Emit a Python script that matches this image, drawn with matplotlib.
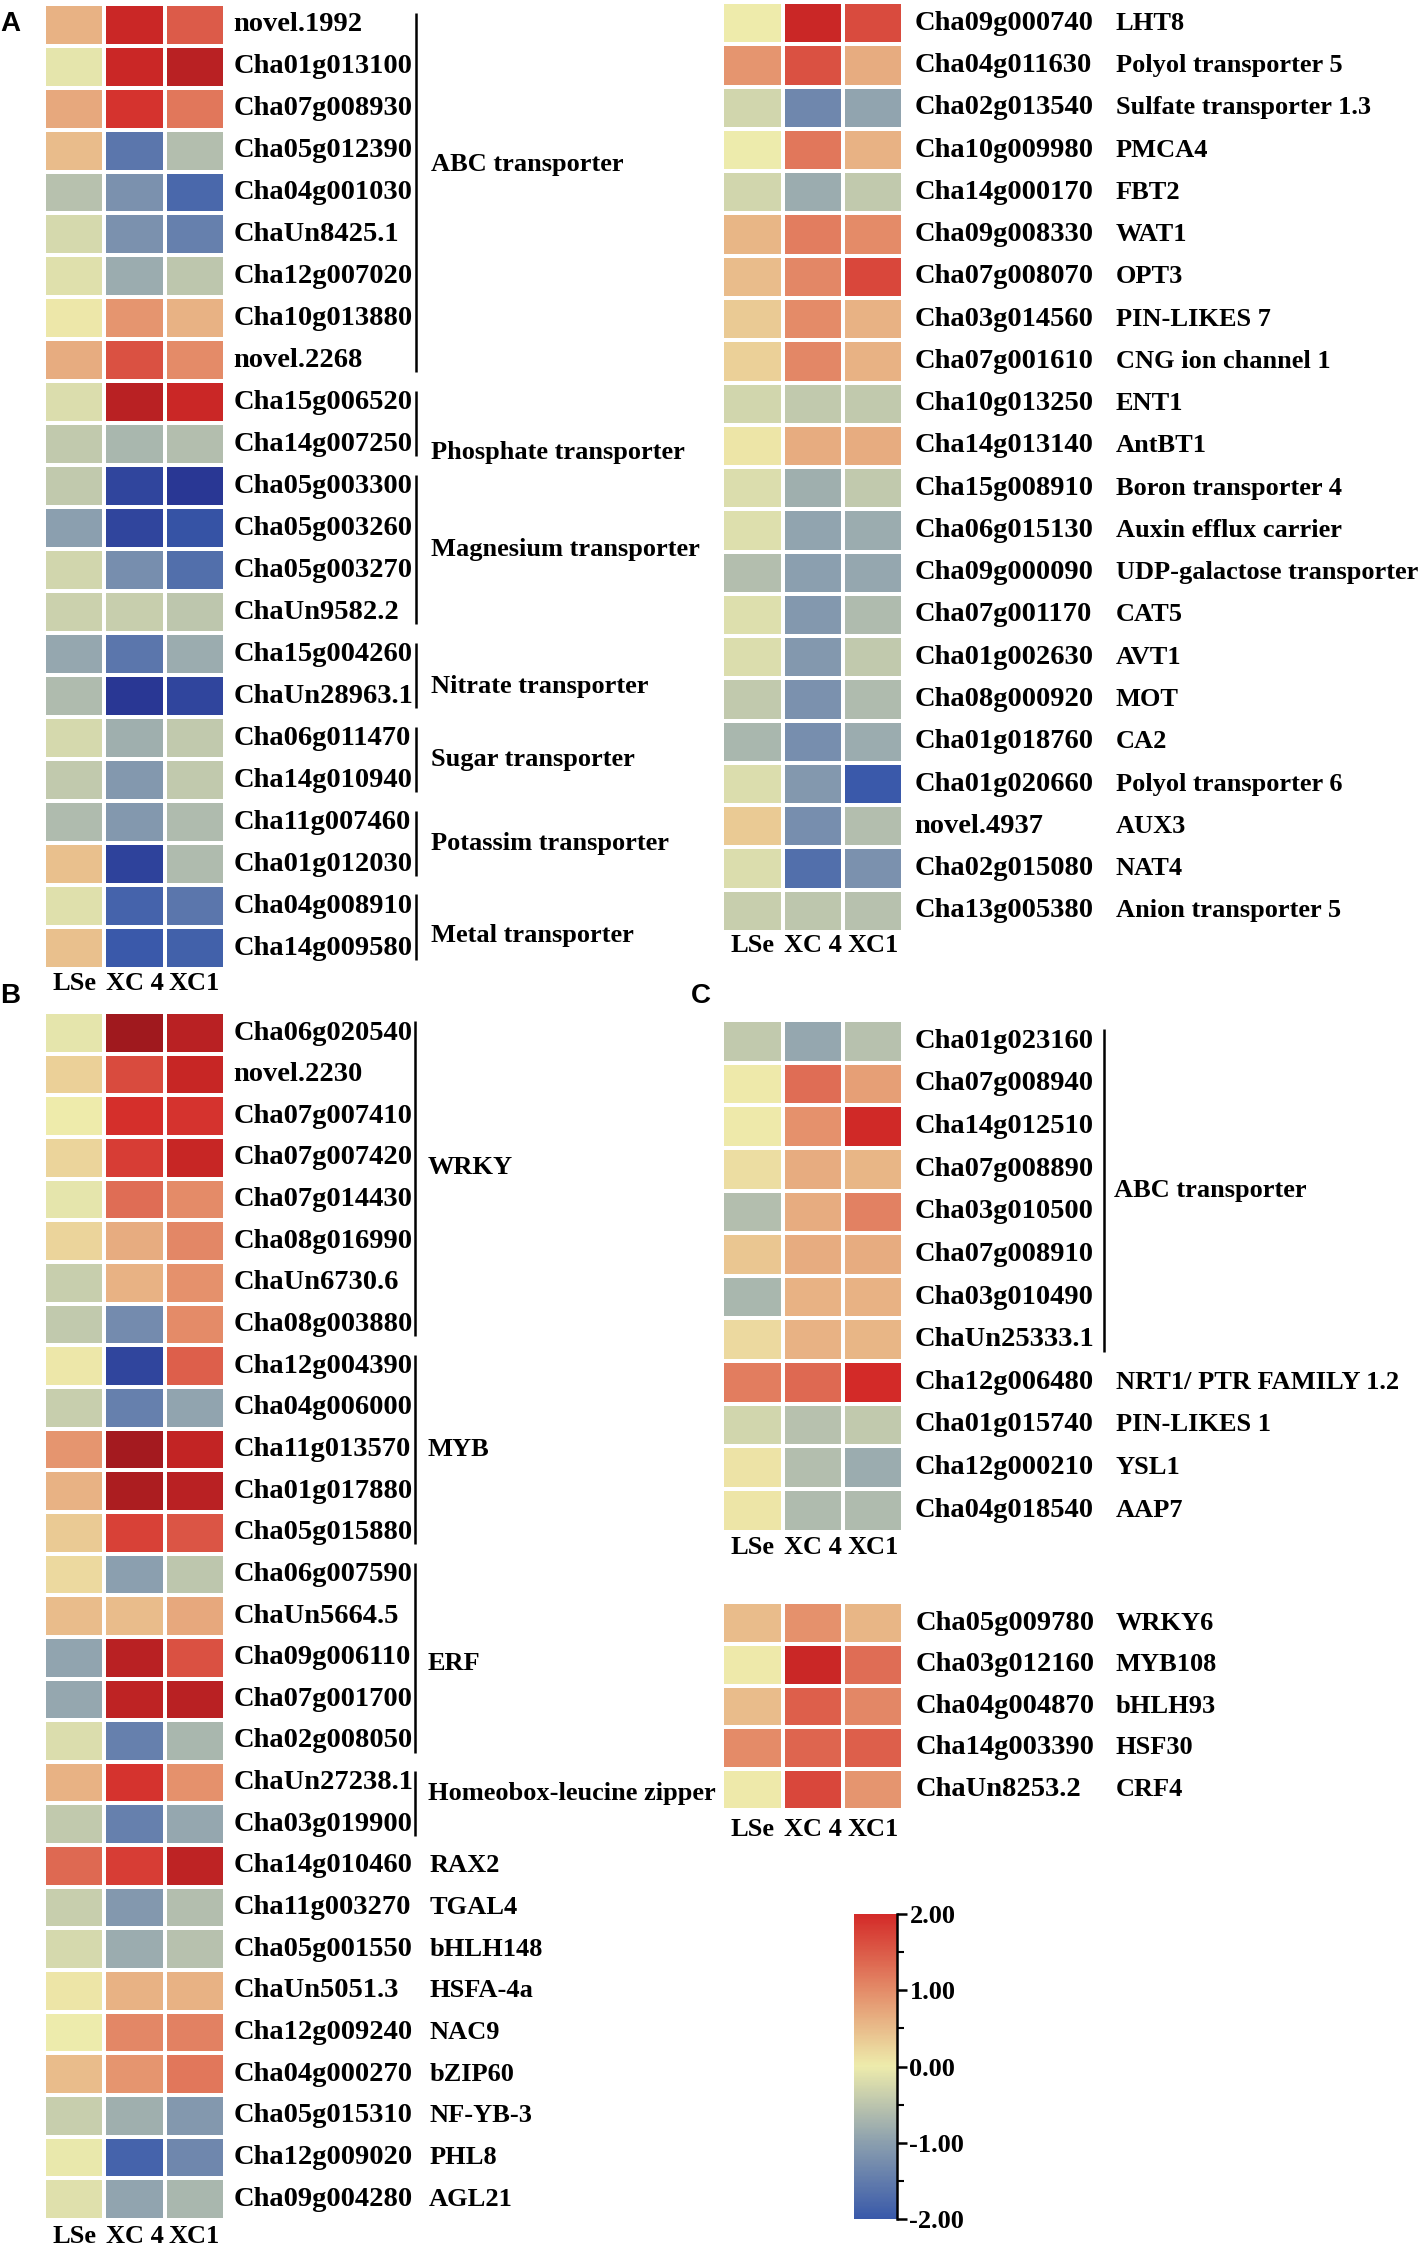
import numpy as np
import matplotlib
matplotlib.use('Agg')
import matplotlib.pyplot as plt
from matplotlib.colors import LinearSegmentedColormap, Normalize

# ---------------- data ----------------
samples = ['LSe', 'XC 4', 'XC1']

a1_genes = ['novel.1992', 'Cha01g013100', 'Cha07g008930', 'Cha05g012390', 'Cha04g001030',
            'ChaUn8425.1', 'Cha12g007020', 'Cha10g013880', 'novel.2268', 'Cha15g006520',
            'Cha14g007250', 'Cha05g003300', 'Cha05g003260', 'Cha05g003270', 'ChaUn9582.2',
            'Cha15g004260', 'ChaUn28963.1', 'Cha06g011470', 'Cha14g010940', 'Cha11g007460',
            'Cha01g012030', 'Cha04g008910', 'Cha14g009580']
a1_values = [[0.6, 2.1, 1.5], [-0.1, 2.1, 2.3], [0.7, 1.9, 1.2], [0.5, -1.6, -0.6],
             [-0.55, -1.2, -1.8], [-0.25, -1.2, -1.45], [-0.15, -0.85, -0.5], [0.05, 0.9, 0.6],
             [0.65, 1.6, 1.0], [-0.2, 2.3, 2.1], [-0.45, -0.7, -0.6], [-0.45, -2.3, -2.5],
             [-1.0, -2.3, -2.1], [-0.3, -1.25, -1.7], [-0.35, -0.4, -0.5], [-0.9, -1.6, -0.85],
             [-0.65, -2.5, -2.3], [-0.25, -0.8, -0.45], [-0.45, -1.1, -0.45], [-0.65, -1.1, -0.65],
             [0.45, -2.35, -0.65], [-0.15, -1.85, -1.6], [0.45, -2.0, -1.9]]
a1_groups = [('ABC transporter', 0, 8), ('Phosphate transporter', 9, 10),
             ('Magnesium transporter', 11, 14), ('Nitrate transporter', 15, 16),
             ('Sugar transporter', 17, 18), ('Potassim transporter', 19, 20),
             ('Metal transporter', 21, 22)]

a2_genes = ['Cha09g000740', 'Cha04g011630', 'Cha02g013540', 'Cha10g009980', 'Cha14g000170',
            'Cha09g008330', 'Cha07g008070', 'Cha03g014560', 'Cha07g001610', 'Cha10g013250',
            'Cha14g013140', 'Cha15g008910', 'Cha06g015130', 'Cha09g000090', 'Cha07g001170',
            'Cha01g002630', 'Cha08g000920', 'Cha01g018760', 'Cha01g020660', 'novel.4937',
            'Cha02g015080', 'Cha13g005380']
a2_desc = ['LHT8', 'Polyol transporter 5', 'Sulfate transporter 1.3', 'PMCA4', 'FBT2', 'WAT1',
           'OPT3', 'PIN-LIKES 7', 'CNG ion channel 1', 'ENT1', 'AntBT1', 'Boron transporter 4',
           'Auxin efflux carrier', 'UDP-galactose transporter', 'CAT5', 'AVT1', 'MOT', 'CA2',
           'Polyol transporter 6', 'AUX3', 'NAT4', 'Anion transporter 5']
a2_values = [[0.0, 2.1, 1.65], [0.9, 1.6, 0.65], [-0.3, -1.35, -0.95], [-0.02, 1.2, 0.6],
             [-0.3, -0.85, -0.45], [0.55, 1.15, 1.0], [0.5, 1.05, 1.7], [0.35, 1.0, 0.6],
             [0.3, 1.05, 0.6], [-0.3, -0.45, -0.45], [0.08, 0.65, 0.65], [-0.2, -0.8, -0.45],
             [-0.18, -0.95, -0.85], [-0.6, -1.0, -0.9], [-0.18, -1.1, -0.65], [-0.2, -1.1, -0.45],
             [-0.45, -1.2, -0.65], [-0.7, -1.25, -0.85], [-0.2, -1.1, -2.0], [0.35, -1.25, -0.6],
             [-0.2, -1.7, -1.2], [-0.4, -0.5, -0.55]]

b_genes = ['Cha06g020540', 'novel.2230', 'Cha07g007410', 'Cha07g007420', 'Cha07g014430',
           'Cha08g016990', 'ChaUn6730.6', 'Cha08g003880', 'Cha12g004390', 'Cha04g006000',
           'Cha11g013570', 'Cha01g017880', 'Cha05g015880', 'Cha06g007590', 'ChaUn5664.5',
           'Cha09g006110', 'Cha07g001700', 'Cha02g008050', 'ChaUn27238.1', 'Cha03g019900',
           'Cha14g010460', 'Cha11g003270', 'Cha05g001550', 'ChaUn5051.3', 'Cha12g009240',
           'Cha04g000270', 'Cha05g015310', 'Cha12g009020', 'Cha09g004280']
b_desc = [''] * 20 + ['RAX2', 'TGAL4', 'bHLH148', 'HSFA-4a', 'NAC9', 'bZIP60', 'NF-YB-3',
                      'PHL8', 'AGL21']
b_values = [[-0.1, 2.6, 2.3], [0.3, 1.65, 2.15], [0.0, 1.95, 1.9], [0.25, 1.8, 2.15],
            [-0.1, 1.3, 1.0], [0.25, 0.65, 1.05], [-0.4, 0.6, 0.95], [-0.45, -1.3, 1.0],
            [0.05, -2.3, 1.45], [-0.4, -1.45, -0.95], [0.9, 2.55, 2.2], [0.6, 2.45, 2.3],
            [0.35, 1.75, 1.55], [0.2, -1.0, -0.5], [0.5, 0.5, 0.7], [-0.95, 2.3, 1.6],
            [-0.9, 2.25, 2.3], [-0.2, -1.45, -0.7], [0.6, 1.9, 0.95], [-0.45, -1.45, -0.9],
            [1.35, 1.8, 2.25], [-0.4, -1.1, -0.6], [-0.25, -0.85, -0.55], [0.08, 0.6, 0.6],
            [-0.02, 1.05, 1.1], [0.5, 0.9, 1.2], [-0.4, -0.8, -1.1], [-0.05, -1.85, -1.35],
            [-0.15, -0.95, -0.7]]
b_groups = [('WRKY', 0, 7), ('MYB', 8, 12), ('ERF', 13, 17), ('Homeobox-leucine zipper', 18, 19)]

c1_genes = ['Cha01g023160', 'Cha07g008940', 'Cha14g012510', 'Cha07g008890', 'Cha03g010500',
            'Cha07g008910', 'Cha03g010490', 'ChaUn25333.1', 'Cha12g006480', 'Cha01g015740',
            'Cha12g000210', 'Cha04g018540']
c1_desc = [''] * 8 + ['NRT1/ PTR FAMILY 1.2', 'PIN-LIKES 1', 'YSL1', 'AAP7']
c1_values = [[-0.45, -0.9, -0.55], [0.03, 1.3, 0.8], [0.03, 0.95, 2.05], [0.15, 0.65, 0.55],
             [-0.6, 0.65, 1.1], [0.4, 0.65, 0.65], [-0.7, 0.6, 0.6], [0.2, 0.6, 0.55],
             [1.15, 1.35, 2.0], [-0.3, -0.55, -0.45], [0.1, -0.6, -0.85], [0.08, -0.65, -0.65]]
c1_groups = [('ABC transporter', 0, 7)]

c2_genes = ['Cha05g009780', 'Cha03g012160', 'Cha04g004870', 'Cha14g003390', 'ChaUn8253.2']
c2_desc = ['WRKY6', 'MYB108', 'bHLH93', 'HSF30', 'CRF4']
c2_values = [[0.5, 0.95, 0.55], [0.03, 2.1, 1.3], [0.5, 1.45, 1.05], [1.0, 1.4, 1.45],
             [0.03, 1.7, 0.9]]

cbar_ticks = [2.0, 1.0, 0.0, -1.0, -2.0]

# ---------------- style ----------------
SERIF = ['Liberation Serif', 'DejaVu Serif']
FS = 19        # descriptions, group names, sample labels
FS_GENE = 20.5  # gene identifiers
LIM = 2.6
nodes = [(-2.6, '#263291'), (-2.0, '#3a5aaa'), (-1.0, '#8ca0af'), (0.0, '#eeecac'),
         (1.0, '#e48c69'), (2.0, '#d42a28'), (2.6, '#a0191e')]
cmap = LinearSegmentedColormap.from_list(
    'bwr_tb', [((v + LIM) / (2 * LIM), c) for v, c in nodes])
norm = Normalize(-LIM, LIM)

W, H = 994.0, 1567.0
fig = plt.figure(figsize=(14.22, 22.45), dpi=100)


def add_axes(x0, y0, x1, y1):
    return fig.add_axes([x0 / W, 1 - y1 / H, (x1 - x0) / W, (y1 - y0) / H])


def txt(ax, x, y, s, size=FS, **kw):
    ax.text(x, y, s, fontsize=size, fontweight='bold', family=SERIF, clip_on=False, **kw)


def heatmap(box, values, genes, label_dx, desc=None, desc_dx=None, groups=None,
            bracket_dx=None, group_dx=None, group_off=None, xlab_off=0.42):
    x0, y0, x1, y1 = box
    ax = add_axes(x0, y0, x1, y1)
    col_w = (x1 - x0) / 3.0
    data = np.array(values)
    n = len(genes)
    ax.pcolormesh(np.arange(4), np.arange(n + 1), data, cmap=cmap, norm=norm,
                  edgecolor='white', linewidth=1.6)
    ax.set_xlim(0, 3)
    ax.set_ylim(n, 0)
    ax.axis('off')
    lx = label_dx / col_w
    for i, g in enumerate(genes):
        txt(ax, lx, i + 0.5, g, size=FS_GENE, ha='left', va='center')
    if desc is not None:
        dx = desc_dx / col_w
        for i, d in enumerate(desc):
            if d:
                txt(ax, dx, i + 0.5, d, ha='left', va='center')
    if groups is not None:
        bx = bracket_dx / col_w
        gx = group_dx / col_w
        for k, (name, s, e) in enumerate(groups):
            ax.plot([bx, bx], [s + 0.22, e + 1 - 0.22], color='black', lw=1.8,
                    clip_on=False, solid_capstyle='butt')
            yc = (s + e + 1) / 2.0 + (group_off[k] if group_off else 0)
            txt(ax, gx, yc, name, ha='left', va='center')
    for j, s in enumerate(samples):
        txt(ax, j + 0.5, n + xlab_off, s, ha='center', va='center')
    return ax


# Panel A left
heatmap((31, 2.5, 157, 676.5), a1_values, a1_genes, label_dx=132,
        groups=a1_groups, bracket_dx=260, group_dx=270,
        group_off=[-0.66, 0.7, 0.0, 0.26, 0.0, 0.0, 0.2], xlab_off=0.34)
# Panel A right
heatmap((505, 1.5, 631, 650.5), a2_values, a2_genes, label_dx=134,
        desc=a2_desc, desc_dx=275, xlab_off=0.32)
# Panel B
heatmap((31, 706.5, 157, 1549.5), b_values, b_genes, label_dx=132,
        desc=b_desc, desc_dx=269, groups=b_groups, bracket_dx=259, group_dx=268,
        group_off=[-0.27, 0.0, 0.13, -0.24], xlab_off=0.4)
# Panel C top
heatmap((505, 712, 631, 1069), c1_values, c1_genes, label_dx=134,
        desc=c1_desc, desc_dx=275, groups=c1_groups, bracket_dx=267, group_dx=274,
        group_off=[0.0], xlab_off=0.38)
# Panel C bottom
heatmap((505, 1118.5, 631, 1263.5), c2_values, c2_genes, label_dx=135,
        desc=c2_desc, desc_dx=275, xlab_off=0.47)

# Colorbar
cax = add_axes(597, 1336, 627, 1549)
grad = np.linspace(-2, 2, 256).reshape(-1, 1)
cax.imshow(grad, aspect='auto', cmap=cmap, norm=norm, origin='lower',
           extent=[0, 1, -2, 2])
cax.set_xlim(0, 1)
cax.set_ylim(-2, 2)
for sp in ['top', 'left', 'bottom']:
    cax.spines[sp].set_visible(False)
cax.spines['right'].set_linewidth(1.8)
cax.set_xticks([])
cax.yaxis.tick_right()
cax.set_yticks(cbar_ticks)
cax.set_yticks([1.5, 0.5, -0.5, -1.5], minor=True)
cax.set_yticklabels(['%.2f' % t for t in cbar_ticks])
cax.tick_params(axis='y', which='major', length=7, width=1.8, pad=2)
cax.tick_params(axis='y', which='minor', length=5, width=1.5)
for lab in cax.get_yticklabels():
    lab.set_fontsize(FS)
    lab.set_fontweight('bold')
    lab.set_family(SERIF)

# Panel letters
for s, x, y in [('A', 0, 17), ('B', 0, 695), ('C', 483, 695)]:
    fig.text(x / W, 1 - y / H, s, fontsize=20, fontweight='bold',
             family=['Liberation Sans', 'DejaVu Sans'], ha='left', va='center')

fig.savefig('out.png', dpi=100, facecolor='white')
